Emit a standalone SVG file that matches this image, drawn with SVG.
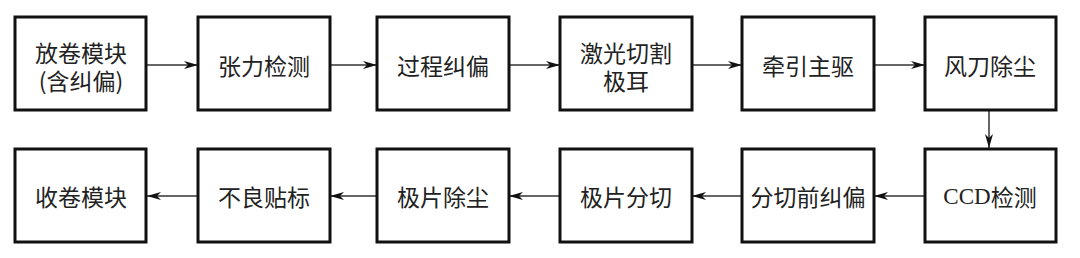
<svg xmlns="http://www.w3.org/2000/svg" width="1080" height="258" viewBox="0 0 1080 258">
<defs>
<style>
.box{fill:#fff;stroke:#111;stroke-width:3}
.t{font-family:"Noto Sans CJK SC","Liberation Sans",sans-serif;font-size:23px;fill:#222;text-anchor:middle;dominant-baseline:central}
.c{fill:none;stroke:#333;stroke-width:1.5}
.s{font-family:"Liberation Serif",serif}
</style>
<marker id="ah" viewBox="0 0 14 8" refX="14" refY="4" markerWidth="14" markerHeight="8" markerUnits="userSpaceOnUse" orient="auto">
<path d="M0,0 L14,4 L0,8 L4,4 Z" fill="#111"/>
</marker>
</defs>
<rect width="1080" height="258" fill="#fff"/>
<g id="connectors">
<line class="c" x1="147" y1="65" x2="198" y2="65" marker-end="url(#ah)"/>
<line class="c" x1="330" y1="65" x2="377" y2="65" marker-end="url(#ah)"/>
<line class="c" x1="509" y1="65" x2="560" y2="65" marker-end="url(#ah)"/>
<line class="c" x1="692" y1="65" x2="742" y2="65" marker-end="url(#ah)"/>
<line class="c" x1="874" y1="65" x2="925" y2="65" marker-end="url(#ah)"/>
<line class="c" x1="989" y1="110" x2="989" y2="148" marker-end="url(#ah)"/>
<line class="c" x1="925" y1="196" x2="874" y2="196" marker-end="url(#ah)"/>
<line class="c" x1="742" y1="196" x2="692" y2="196" marker-end="url(#ah)"/>
<line class="c" x1="560" y1="196" x2="509" y2="196" marker-end="url(#ah)"/>
<line class="c" x1="377" y1="196" x2="330" y2="196" marker-end="url(#ah)"/>
<line class="c" x1="198" y1="196" x2="147" y2="196" marker-end="url(#ah)"/>
</g>
<g id="n1"><rect class="box" x="15" y="17" width="131" height="93"/><text class="t" x="81" y="52">放卷模块</text><text class="t" x="81" y="80">(含纠偏)</text></g>
<g id="n2"><rect class="box" x="198" y="17" width="132" height="93"/><text class="t" x="264" y="65">张力检测</text></g>
<g id="n3"><rect class="box" x="377" y="17" width="132" height="93"/><text class="t" x="443" y="65">过程纠偏</text></g>
<g id="n4"><rect class="box" x="560" y="17" width="132" height="93"/><text class="t" x="626" y="52">激光切割</text><text class="t" x="626" y="80">极耳</text></g>
<g id="n5"><rect class="box" x="742" y="17" width="132" height="93"/><text class="t" x="808" y="65">牵引主驱</text></g>
<g id="n6"><rect class="box" x="925" y="17" width="131" height="93"/><text class="t" x="990" y="65">风刀除尘</text></g>
<g id="n7"><rect class="box" x="925" y="149" width="131" height="93"/><text class="t" x="990" y="196"><tspan class="s">CCD</tspan>检测</text></g>
<g id="n8"><rect class="box" x="742" y="149" width="132" height="93"/><text class="t" x="808" y="196">分切前纠偏</text></g>
<g id="n9"><rect class="box" x="560" y="149" width="132" height="93"/><text class="t" x="626" y="196">极片分切</text></g>
<g id="n10"><rect class="box" x="377" y="149" width="132" height="93"/><text class="t" x="443" y="196">极片除尘</text></g>
<g id="n11"><rect class="box" x="198" y="149" width="132" height="93"/><text class="t" x="264" y="196">不良贴标</text></g>
<g id="n12"><rect class="box" x="15" y="149" width="131" height="93"/><text class="t" x="81" y="196">收卷模块</text></g>
</svg>
